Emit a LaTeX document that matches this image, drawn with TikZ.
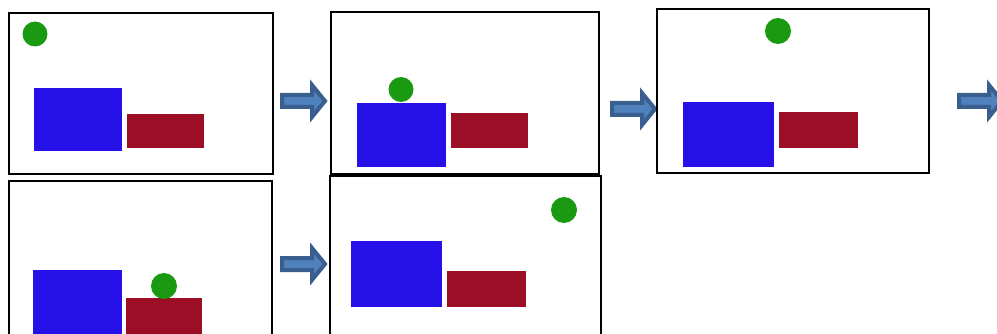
\documentclass[tikz,border=0pt]{standalone}
\usepackage{xcolor}
\usepackage{tikz}
\definecolor{boxblue}{RGB}{37, 16, 232}
\definecolor{boxred}{RGB}{155, 14, 37}
\definecolor{ballgreen}{RGB}{26, 154, 16}
\definecolor{arrowedge}{RGB}{58, 95, 143}
\definecolor{arrowfill}{RGB}{79, 129, 189}

\begin{document}
\begin{tikzpicture}[x=1pt, y=-1pt,
    frame/.style={draw=black, line width=1.8pt},
    bigbox/.style={fill=boxblue},
    smallbox/.style={fill=boxred},
    ball/.style={fill=ballgreen},
    flowarrow/.pic={
        \draw[fill=arrowfill, draw=arrowedge, line width=4pt, line join=miter]
            (2,-6) -- (32,-6) -- (32,-16) -- (45,0) -- (32,16) -- (32,6) -- (2,6) -- cycle;
    }]
    \useasboundingbox (0,0) rectangle (997,334);
    \clip (0,0) rectangle (997,334);

    % panel 1: ball in the air, upper left
    \draw[frame] (9,13) rectangle (273,174);
    \fill[bigbox] (34,88) rectangle (122,151);
    \fill[smallbox] (127,114) rectangle (204,148);
    \fill[ball] (35,34) circle (12.5);

    \pic at (280,101) {flowarrow};

    % panel 2: ball on the blue box
    \draw[frame] (331,12) rectangle (599,174);
    \fill[bigbox] (357,103) rectangle (446,167);
    \fill[smallbox] (451,113) rectangle (528,148);
    \fill[ball] (401,89.5) circle (12.5);

    \pic at (610,109) {flowarrow};

    % panel 3: ball on top
    \draw[frame] (657,9) rectangle (929,173);
    \fill[bigbox] (683,102) rectangle (774,167);
    \fill[smallbox] (779,112) rectangle (858,148);
    \fill[ball] (778,31) circle (13);

    \pic at (957,101) {flowarrow};

    % panel 4: ball on the red box
    \draw[frame] (9,181) rectangle (272,345);
    \fill[bigbox] (33,270) rectangle (122,345);
    \fill[smallbox] (126,298) rectangle (202,345);
    \fill[ball] (164,286) circle (13);

    \pic at (280,264) {flowarrow};

    % panel 5: ball upper right
    \draw[frame] (330,176) rectangle (601,345);
    \fill[bigbox] (351,241) rectangle (442,307);
    \fill[smallbox] (447,271) rectangle (526,307);
    \fill[ball] (564,210) circle (13);
\end{tikzpicture}
\end{document}
